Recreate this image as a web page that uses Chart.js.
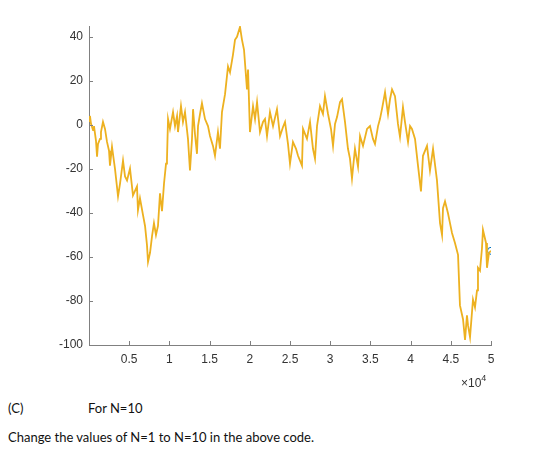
<!DOCTYPE html>
<html>
<head>
<meta charset="utf-8">
<script src="https://cdn.jsdelivr.net/npm/chart.js@4"></script>
<style>
body { margin:0; background:#fff; }
#wrap { position:absolute; left:0; top:0; width:560px; height:380px; }
.note { position:absolute; font-family:Lato, "Open Sans", sans-serif; font-size:13px; color:#111; white-space:nowrap; }
#expo { position:absolute; left:461px; top:373px; font-family:"Liberation Sans", Arial, sans-serif; font-size:12px; color:#333; }
#expo sup { font-size:9px; vertical-align:6px; }
</style>
</head>
<body>
<div id="wrap"><canvas id="walk" width="560" height="380"></canvas></div>
<span id="expo">&times;10<sup>4</sup></span>
<div class="note" style="left:8px;top:400px;">(C)</div>
<div class="note" style="left:88px;top:400px;">For N=10</div>
<div class="note" style="left:8px;top:429px;">Change the values of N=1 to N=10 in the above code.</div>
<script>
// step number (x 10^4) and walk position
var pasos = [0.000,0.012,0.025,0.050,0.062,0.087,0.100,0.112,0.137,0.149,0.174,0.199,0.224,0.249,0.261,0.286,0.323,0.361,0.386,0.423,
  0.448,0.473,0.510,0.547,0.597,0.609,0.634,0.672,0.697,0.721,0.734,0.759,0.784,0.808,0.833,0.858,0.883,0.908,0.933,0.958,
  0.970,0.983,1.007,1.045,1.070,1.095,1.107,1.144,1.169,1.194,1.231,1.256,1.281,1.294,1.318,1.343,1.356,1.381,1.405,1.443,
  1.480,1.505,1.542,1.567,1.604,1.629,1.654,1.692,1.729,1.754,1.791,1.816,1.841,1.878,1.903,1.928,1.965,1.978,2.002,2.040,
  2.065,2.090,2.127,2.164,2.189,2.214,2.251,2.289,2.338,2.376,2.413,2.438,2.475,2.500,2.537,2.575,2.600,2.649,2.662,2.711,
  2.749,2.786,2.811,2.836,2.873,2.910,2.935,2.973,3.010,3.035,3.060,3.085,3.122,3.147,3.184,3.221,3.246,3.271,3.308,3.346,
  3.371,3.408,3.458,3.495,3.532,3.557,3.595,3.619,3.644,3.682,3.719,3.744,3.769,3.806,3.843,3.868,3.905,3.930,3.968,3.993,
  4.017,4.055,4.092,4.129,4.154,4.204,4.241,4.279,4.328,4.366,4.391,4.403,4.428,4.465,4.490,4.515,4.552,4.590,4.614,4.652,
  4.677,4.701,4.714,4.739,4.776,4.801,4.826,4.838,4.863,4.888,4.900,4.938,4.950,4.975,5.000];
var posicion = [1.8,4.1,0.5,-2.3,-0.5,-7.2,-14.4,-8.6,-6.3,-3.2,1.4,-1.8,-7.7,-11.7,-18.5,-9.9,-19.8,-32.4,-26.6,-16.2,
  -23.4,-25.2,-19.8,-32.0,-27.9,-38.7,-33.3,-41.0,-45.9,-54.5,-62.2,-58.1,-50.5,-44.6,-50.0,-45.9,-31.1,-39.2,-26.6,-17.6,
  -15.3,2.7,-1.8,5.9,-0.5,4.1,-3.2,8.6,1.4,5.9,-6.3,-20.7,-6.3,7.2,-4.1,-13.1,-0.5,5.0,9.9,2.7,
  -0.5,-5.0,-9.5,-14.0,-3.2,-10.8,5.9,14.0,26.6,23.9,32.0,38.7,40.1,44.6,38.7,34.2,16.2,25.2,-3.2,8.6,
  2.7,10.4,-3.2,1.4,2.7,-5.0,5.9,-0.5,7.2,-5.0,-0.9,1.4,-8.6,-17.6,-7.7,-10.8,-14.0,-18.5,-1.8,-6.3,
  1.4,-10.8,-15.3,-0.5,8.6,5.0,13.1,5.0,-1.8,-9.5,0.5,3.6,10.4,11.7,1.4,-10.8,-15.3,-24.3,-10.8,-18.9,
  -5.0,-9.5,-1.8,-0.5,-6.3,-8.6,-0.5,2.7,7.2,14.9,5.0,11.7,16.2,13.1,0.5,-5.4,8.1,1.4,-7.7,-0.5,
  -1.8,-6.3,-18.5,-30.2,-14.0,-9.5,-20.7,-10.8,-25.2,-44.6,-50.0,-37.8,-34.7,-40.1,-44.6,-49.1,-53.6,-59.0,-82.0,-88.3,
  -97.7,-86.5,-91.0,-96.4,-79.3,-82.9,-75.2,-64.9,-66.2,-55.9,-47.7,-53.6,-64.9,-58.1,-57.2];
var marcasY = [-100,-80,-60,-40,-20,0,20,40];
var marcasX = [0.5,1,1.5,2,2.5,3,3.5,4,4.5,5];

var puntos = [];
for (let i = 0; i < pasos.length; i++) {
    puntos.push({x: pasos[i], y: posicion[i]});
}
var ultimo = puntos[puntos.length - 1];

// MATLAB style ticks that point into the plot
var ticksDentro = {
    id: 'ticksDentro',
    afterDraw(chart) {
        const ctx = chart.ctx, a = chart.chartArea;
        const sx = chart.scales.x, sy = chart.scales.y;
        ctx.save();
        ctx.strokeStyle = '#808080';
        ctx.lineWidth = 1;
        ctx.beginPath();
        marcasX.forEach(v => {
            const p = Math.round(sx.getPixelForValue(v)) + 0.5;
            ctx.moveTo(p, a.bottom); ctx.lineTo(p, a.bottom - 4);
        });
        marcasY.forEach(v => {
            const p = Math.round(sy.getPixelForValue(v)) + 0.5;
            ctx.moveTo(a.left, p); ctx.lineTo(a.left + 4, p);
        });
        ctx.stroke();
        ctx.restore();
    }
};

var fuente = {family: '"Liberation Sans", Arial, sans-serif', size: 12};

new Chart(document.getElementById('walk').getContext('2d'), {
    type: 'line',
    data: {
        datasets: [
            {data: puntos, borderColor: '#EDB120', borderWidth: 1.8, pointRadius: 0, tension: 0, fill: false},
            {data: [ultimo], showLine: false, pointRadius: 3.5, pointBorderWidth: 1,
             pointBorderColor: '#0072BD', pointBackgroundColor: 'rgba(0,0,0,0)'}
        ]
    },
    options: {
        responsive: false,
        animation: false,
        devicePixelRatio: 1,
        layout: {padding: {top: 26, right: 69, left: 0, bottom: 0}},
        plugins: {legend: {display: false}, tooltip: {enabled: false}},
        scales: {
            x: {
                type: 'linear', min: 0, max: 5,
                afterFit(s) { s.height = 35; },
                afterBuildTicks(s) { s.ticks = marcasX.map(v => ({value: v})); },
                grid: {display: false, drawTicks: false},
                border: {display: true, color: '#808080', width: 1},
                ticks: {padding: 7, color: '#333', font: fuente, maxRotation: 0,
                        callback: v => String(v)}
            },
            y: {
                type: 'linear', min: -100, max: 45,
                afterFit(s) { s.width = 89; },
                afterBuildTicks(s) { s.ticks = marcasY.map(v => ({value: v})); },
                grid: {display: false, drawTicks: false},
                border: {display: true, color: '#808080', width: 1},
                ticks: {padding: 6, color: '#333', font: fuente}
            }
        }
    },
    plugins: [ticksDentro]
});
</script>
</body>
</html>
